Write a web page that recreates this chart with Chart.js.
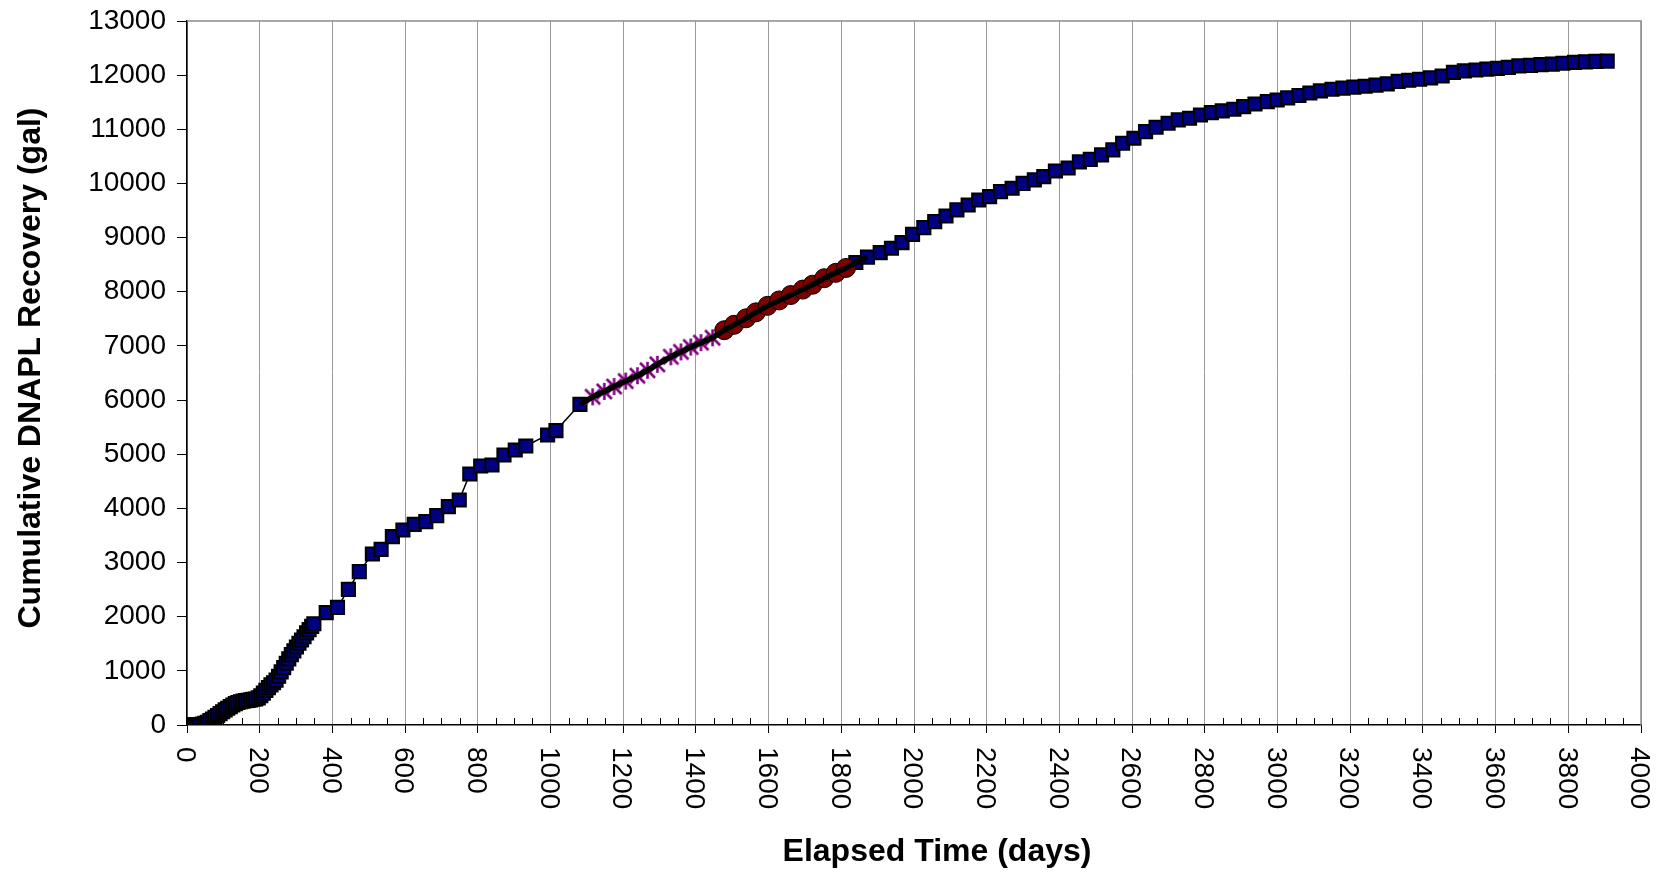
<!DOCTYPE html>
<html>
<head>
<meta charset="utf-8">
<title>Cumulative DNAPL Recovery</title>
<script src="https://cdn.jsdelivr.net/npm/chart.js@4/dist/chart.umd.min.js"></script>
<style>
  html, body { margin: 0; padding: 0; background: #ffffff; }
  #wrap { width: 1663px; height: 873px; }
</style>
</head>
<body>
<div id="wrap"><canvas id="recovery" width="1663" height="873"></canvas></div>
<script>
// Recovery record: elapsed days and cumulative gallons
const blueDays = [
  0, 7, 14, 21, 28, 35, 42, 49, 56, 63, 70, 77, 84, 91, 98, 105, 112, 119, 126, 133,
  140, 147, 154, 161, 168, 175, 182, 189, 196, 203, 210, 217, 224, 231, 238, 245, 252, 259, 266, 273,
  280, 287, 294, 301, 308, 315, 322, 329, 336, 343, 349,
  383, 414, 444, 474, 510, 534, 565, 594, 625, 657, 687, 719, 749, 778, 808, 839, 872, 903, 932, 992, 1015, 1081,
  1840, 1872, 1907, 1938, 1967, 1996, 2027, 2057, 2088, 2118, 2149, 2178, 2208, 2238, 2270, 2300, 2331, 2357,
  2389, 2424, 2455, 2485, 2516, 2547, 2574, 2605, 2637, 2666, 2699, 2727, 2758, 2788, 2818, 2848, 2880, 2907,
  2938, 2972, 2999, 3028, 3059, 3089, 3118, 3150, 3180, 3210, 3241, 3271, 3302, 3332, 3361, 3391, 3421, 3453,
  3484, 3514, 3546, 3576, 3605, 3635, 3664, 3696, 3725, 3756, 3785, 3817, 3847, 3876, 3907
];
const blueGal = [
  0, 0, 0, 0, 0, 5, 15, 30, 50, 80, 110, 140, 175, 210, 245, 280, 310, 340, 370, 395,
  415, 430, 440, 450, 455, 465, 475, 480, 500, 540, 590, 640, 690, 740, 780, 830, 900, 980, 1060, 1140,
  1220, 1300, 1370, 1440, 1510, 1570, 1630, 1700, 1760, 1820, 1870,
  2074, 2173, 2505, 2832, 3158, 3244, 3478, 3601, 3706, 3755, 3866, 4032, 4155, 4635, 4783, 4802, 4986, 5079, 5152, 5356, 5436, 5922,
  8540, 8640, 8723, 8803, 8907, 9061, 9184, 9295, 9400, 9511, 9603, 9695, 9757, 9849, 9911, 10003, 10065, 10126,
  10230, 10285, 10400, 10445, 10527, 10619, 10742, 10834, 10958, 11038, 11111, 11173, 11204, 11265, 11308, 11339, 11370, 11419,
  11468, 11511, 11542, 11580, 11625, 11670, 11710, 11740, 11760, 11780, 11795, 11815, 11840, 11885, 11905, 11925, 11950, 11985,
  12050, 12080, 12095, 12110, 12125, 12145, 12170, 12180, 12195, 12205, 12220, 12235, 12245, 12255, 12260
];
const purpleDays = [1116, 1148, 1175, 1207, 1239, 1267, 1294, 1331, 1359, 1386, 1414, 1446];
const purpleGal  = [6060, 6160, 6250, 6350, 6450, 6550, 6660, 6800, 6890, 6980, 7060, 7150];
const redDays = [1478, 1505, 1538, 1565, 1597, 1629, 1661, 1694, 1721, 1753, 1785, 1813];
const redGal  = [7290, 7390, 7510, 7620, 7740, 7840, 7940, 8040, 8130, 8250, 8350, 8440];
// Span covered by the heavy fitted segment
const fitSpan = [1081, 1872];

const xTicks = [0, 200, 400, 600, 800, 1000, 1200, 1400, 1600, 1800, 2000, 2200, 2400, 2600, 2800, 3000, 3200, 3400, 3600, 3800, 4000];
const yTicks = [0, 1000, 2000, 3000, 4000, 5000, 6000, 7000, 8000, 9000, 10000, 11000, 12000, 13000];
const xTitle = 'Elapsed Time (days)';
const yTitle = 'Cumulative DNAPL Recovery (gal)';

const pts = (xs, ys) => xs.map((x, i) => ({ x: x, y: ys[i] }));
const bluePts = pts(blueDays, blueGal);
const purplePts = pts(purpleDays, purpleGal);
const redPts = pts(redDays, redGal);
const fitPts = bluePts.filter(p => p.x >= fitSpan[0] && p.x <= fitSpan[1])
  .concat(purplePts, redPts)
  .sort((a, b) => a.x - b.x);

// "Ж" style marker (X with a vertical stroke)
function starMarker(color) {
  const c = document.createElement('canvas');
  c.width = 19; c.height = 19;
  const g = c.getContext('2d');
  g.strokeStyle = color;
  g.lineWidth = 2.6;
  g.beginPath();
  g.moveTo(2, 2); g.lineTo(17, 17);
  g.moveTo(17, 2); g.lineTo(2, 17);
  g.moveTo(9.5, 1); g.lineTo(9.5, 18);
  g.stroke();
  return c;
}

const FONT = '"Liberation Sans", Arial, Helvetica, sans-serif';

const decorations = {
  id: 'decorations',
  beforeDatasetsDraw(chart) {
    const { ctx, chartArea: a, scales } = chart;
    ctx.save();
    // top and right edge of the plot frame
    ctx.strokeStyle = '#8c8c8c';
    ctx.lineWidth = 1.5;
    ctx.beginPath();
    ctx.moveTo(a.left, a.top);
    ctx.lineTo(a.right, a.top);
    ctx.lineTo(a.right, a.bottom);
    ctx.stroke();
    // minor ticks along the time axis, pointing inward
    ctx.strokeStyle = '#000';
    ctx.lineWidth = 1;
    ctx.beginPath();
    for (let d = 50; d < 4000; d += 50) {
      if (d % 200 === 0) continue;
      const x = Math.round(scales.x.getPixelForValue(d)) + 0.5;
      ctx.moveTo(x, a.bottom);
      ctx.lineTo(x, a.bottom - 7);
    }
    ctx.stroke();
    ctx.restore();
  },
  afterDraw(chart) {
    const { ctx, chartArea: a, scales } = chart;
    ctx.save();
    ctx.fillStyle = '#000';
    // rotated time-axis labels, reading downward
    ctx.font = '28px ' + FONT;
    ctx.textAlign = 'left';
    ctx.textBaseline = 'middle';
    xTicks.forEach(v => {
      const x = scales.x.getPixelForValue(v) - 2;
      ctx.save();
      ctx.translate(x, a.bottom + 22);
      ctx.rotate(Math.PI / 2);
      ctx.fillText(String(v), 0, 0);
      ctx.restore();
    });
    // axis titles
    ctx.font = 'bold 32px ' + FONT;
    ctx.textAlign = 'center';
    ctx.fillText(xTitle, 937, 852);
    ctx.save();
    ctx.translate(31, (a.top + a.bottom) / 2 - 5);
    ctx.rotate(-Math.PI / 2);
    ctx.fillText(yTitle, 0, 0);
    ctx.restore();
    ctx.restore();
  }
};

new Chart(document.getElementById('recovery'), {
  type: 'scatter',
  data: {
    datasets: [
      {
        label: 'Fitted segment',
        data: fitPts,
        showLine: true,
        borderColor: '#000',
        borderWidth: 5.5,
        pointRadius: 0,
        order: 0
      },
      {
        label: 'Interval A',
        data: purplePts,
        showLine: false,
        pointStyle: starMarker('#800080'),
        order: 1
      },
      {
        label: 'Interval B',
        data: redPts,
        showLine: false,
        pointStyle: 'circle',
        pointRadius: 9.5,
        backgroundColor: '#800000',
        borderColor: '#000',
        borderWidth: 1,
        order: 2
      },
      {
        label: 'Cumulative recovery',
        data: bluePts,
        showLine: true,
        borderColor: '#000',
        borderWidth: 1.5,
        pointStyle: 'rect',
        pointRadius: 9.3,
        pointBackgroundColor: '#000080',
        pointBorderColor: '#000',
        pointBorderWidth: 2,
        order: 3
      }
    ]
  },
  options: {
    responsive: false,
    animation: false,
    devicePixelRatio: 1,
    layout: { padding: { top: 21, right: 22, left: 0, bottom: 0 } },
    plugins: {
      legend: { display: false },
      tooltip: { enabled: false }
    },
    scales: {
      x: {
        type: 'linear',
        min: 0,
        max: 4000,
        afterBuildTicks: s => { s.ticks = xTicks.map(v => ({ value: v })); },
        ticks: { display: false },
        grid: {
          color: '#9a9a9a',
          lineWidth: 1,
          drawTicks: true,
          tickLength: 8,
          tickColor: '#000'
        },
        border: { color: '#000', width: 1.5 },
        afterFit: s => { s.height = 148; s.paddingLeft = 0; s.paddingRight = 0; }
      },
      y: {
        type: 'linear',
        min: 0,
        max: 13000,
        afterBuildTicks: s => { s.ticks = yTicks.map(v => ({ value: v })); },
        ticks: {
          color: '#000',
          font: { family: FONT, size: 28 },
          padding: 11,
          callback: v => String(v)
        },
        grid: {
          drawOnChartArea: false,
          drawTicks: true,
          tickLength: 10,
          tickColor: '#000'
        },
        border: { color: '#000', width: 1.5 },
        afterFit: s => { s.width = 187; s.paddingTop = 0; s.paddingBottom = 0; }
      }
    }
  },
  plugins: [decorations]
});
</script>
</body>
</html>
